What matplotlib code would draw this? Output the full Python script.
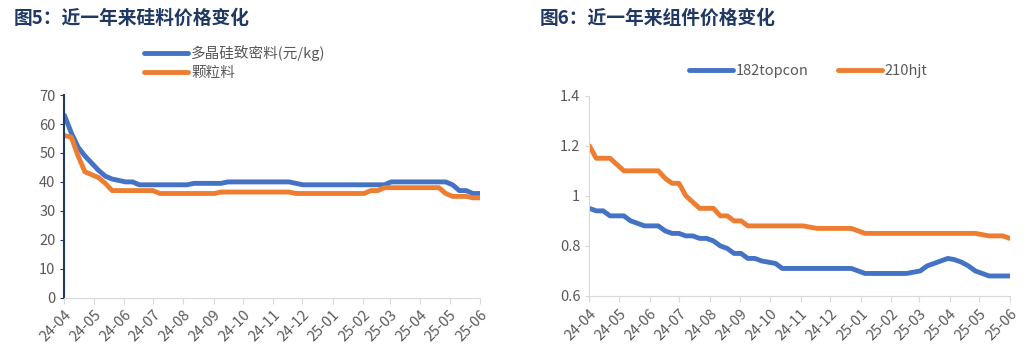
import matplotlib.pyplot as plt
import matplotlib.dates as mdates
import pandas as pd

plt.rcParams['font.family'] = ['Noto Sans CJK SC', 'DejaVu Sans']

# weekly observations, 2024-04 .. 2025-06
dates = pd.date_range('2024-04-01', '2025-06-01', periods=62)

poly_dense = [63, 57, 52, 49, 46.5, 44, 42, 41, 40.5, 40,
              40, 39, 39, 39, 39, 39, 39, 39, 39, 39.5,
              39.5, 39.5, 39.5, 39.5, 40, 40, 40, 40, 40, 40,
              40, 40, 40, 40, 39.5, 39, 39, 39, 39, 39,
              39, 39, 39, 39, 39, 39, 39, 39, 40, 40,
              40, 40, 40, 40, 40, 40, 40, 39, 37, 37,
              36, 36]
granular = [56, 55.5, 49, 43.5, 42.5, 41.5, 39.5, 37, 37, 37,
            37, 37, 37, 37, 36, 36, 36, 36, 36, 36,
            36, 36, 36, 36.5, 36.5, 36.5, 36.5, 36.5, 36.5, 36.5,
            36.5, 36.5, 36.5, 36.5, 36, 36, 36, 36, 36, 36,
            36, 36, 36, 36, 36, 37, 37, 38, 38, 38,
            38, 38, 38, 38, 38, 38, 36, 35, 35, 35,
            34.5, 34.5]

topcon_182 = [0.95, 0.94, 0.94, 0.92, 0.92, 0.92, 0.90, 0.89, 0.88, 0.88,
              0.88, 0.86, 0.85, 0.85, 0.84, 0.84, 0.83, 0.83, 0.82, 0.80,
              0.79, 0.77, 0.77, 0.75, 0.75, 0.74, 0.735, 0.73, 0.71, 0.71,
              0.71, 0.71, 0.71, 0.71, 0.71, 0.71, 0.71, 0.71, 0.71, 0.70,
              0.69, 0.69, 0.69, 0.69, 0.69, 0.69, 0.69, 0.695, 0.70, 0.72,
              0.73, 0.74, 0.75, 0.745, 0.735, 0.72, 0.70, 0.69, 0.68, 0.68,
              0.68, 0.68]
hjt_210 = [1.20, 1.15, 1.15, 1.15, 1.125, 1.10, 1.10, 1.10, 1.10, 1.10,
           1.10, 1.07, 1.05, 1.05, 1.00, 0.975, 0.95, 0.95, 0.95, 0.92,
           0.92, 0.90, 0.90, 0.88, 0.88, 0.88, 0.88, 0.88, 0.88, 0.88,
           0.88, 0.88, 0.875, 0.87, 0.87, 0.87, 0.87, 0.87, 0.87, 0.86,
           0.85, 0.85, 0.85, 0.85, 0.85, 0.85, 0.85, 0.85, 0.85, 0.85,
           0.85, 0.85, 0.85, 0.85, 0.85, 0.85, 0.85, 0.845, 0.84, 0.84,
           0.84, 0.83]

BLUE = '#4472C4'
ORANGE = '#ED7D31'
NAVY = '#1F3864'
GRAY = '#595959'
LIGHT = '#D9D9D9'


def style_axis(ax, spine_color, tick_color):
    ax.spines['top'].set_visible(False)
    ax.spines['right'].set_visible(False)
    ax.spines['left'].set_color(spine_color)
    ax.spines['bottom'].set_color(LIGHT)
    ax.tick_params(axis='y', colors=tick_color, labelcolor=GRAY, labelsize=10.5, length=3)
    ax.tick_params(axis='x', colors=LIGHT, labelcolor=GRAY, labelsize=10.5, length=4)
    ax.xaxis.set_major_locator(mdates.MonthLocator())
    ax.xaxis.set_major_formatter(mdates.DateFormatter('%y-%m'))
    for lab in ax.get_xticklabels():
        lab.set_rotation(45)
        lab.set_ha('right')
        lab.set_rotation_mode('anchor')
    ax.set_xlim(dates[0], dates[-1])


fig = plt.figure(figsize=(10.28, 3.59), dpi=100)

# left: polysilicon
ax1 = fig.add_axes([0.0627, 0.171, 0.404, 0.564])
ax1.plot(dates, poly_dense, color=BLUE, lw=3.5, label='多晶硅致密料(元/kg)', solid_capstyle='round')
ax1.plot(dates, granular, color=ORANGE, lw=3.5, label='颗粒料', solid_capstyle='round')
ax1.set_ylim(0, 70)
ax1.set_yticks(range(0, 71, 10))
style_axis(ax1, NAVY, NAVY)
ax1.spines['left'].set_linewidth(1.5)
ax1.legend(loc='lower left', bbox_to_anchor=(0.175, 1.04), frameon=False, fontsize=10.5,
           labelcolor=GRAY, handlelength=3.0, handletextpad=0.2, labelspacing=0.3,
           borderpad=0)

# right: modules
ax2 = fig.add_axes([0.5733, 0.1755, 0.409, 0.558])
ax2.plot(dates, topcon_182, color=BLUE, lw=3.5, label='182topcon', solid_capstyle='round')
ax2.plot(dates, hjt_210, color=ORANGE, lw=3.5, label='210hjt', solid_capstyle='round')
ax2.set_ylim(0.6, 1.4)
ax2.set_yticks([0.6, 0.8, 1.0, 1.2, 1.4])
ax2.set_yticklabels(['0.6', '0.8', '1', '1.2', '1.4'])
style_axis(ax2, LIGHT, LIGHT)
ax2.legend(loc='lower left', bbox_to_anchor=(0.22, 1.05), ncol=2, frameon=False, fontsize=10.5,
           labelcolor=GRAY, handlelength=3.0, handletextpad=0.2, columnspacing=2.0,
           borderpad=0)

fig.text(0.013, 0.95, '图5：近一年来硅料价格变化', fontsize=13.5, fontweight='bold',
         color=NAVY, va='center', ha='left')
fig.text(0.525, 0.95, '图6：近一年来组件价格变化', fontsize=13.5, fontweight='bold',
         color=NAVY, va='center', ha='left')

fig.savefig('out.png', dpi=100)
